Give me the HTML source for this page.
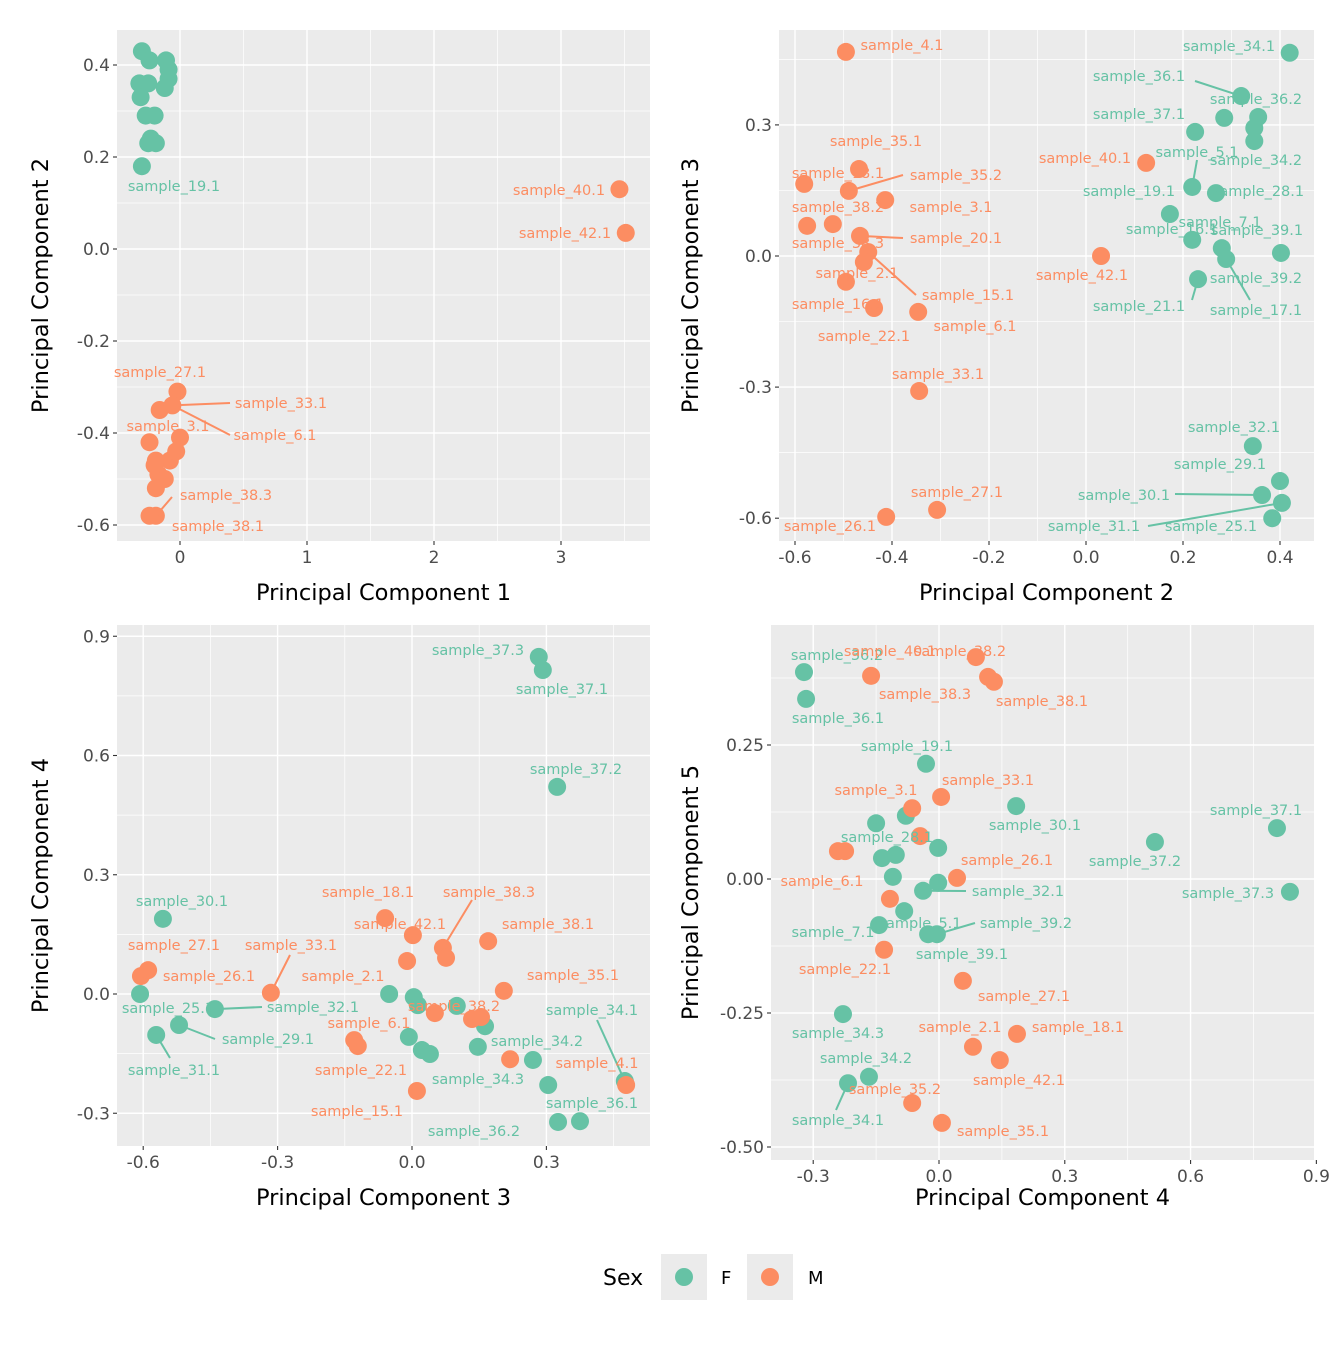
<!DOCTYPE html>
<html><head><meta charset="utf-8"><style>
body{margin:0;background:#fff}
svg{font-family:"DejaVu Sans","Liberation Sans",sans-serif}
</style></head><body>
<svg id="chart" width="1344" height="1344" viewBox="0 0 1344 1344" xmlns="http://www.w3.org/2000/svg"></svg>
<script>
// ---- data: panel 1 (PC1 vs PC2)
const p1GreenX=[-0.30,-0.24,-0.11,-0.09,-0.32,-0.25,-0.09,-0.12,-0.31,-0.27,-0.20,-0.25,-0.19,-0.23,-0.30];
const p1GreenY=[0.43,0.41,0.41,0.39,0.36,0.36,0.37,0.35,0.33,0.29,0.29,0.23,0.23,0.24,0.18];
const p1OrangeX=[-0.02,-0.16,-0.06,-0.24,0,-0.19,-0.08,-0.03,-0.17,-0.12,-0.19,-0.19,-0.24,-0.20,3.46,3.51];
const p1OrangeY=[-0.31,-0.35,-0.34,-0.42,-0.41,-0.46,-0.46,-0.44,-0.49,-0.50,-0.52,-0.58,-0.58,-0.47,0.13,0.035];
// panel 2 (PC2 vs PC3)
const p2GreenX=[0.42,0.32,0.225,0.285,0.355,0.347,0.347,0.219,0.268,0.173,0.219,0.280,0.289,0.402,0.231,0.344,0.40,0.363,0.404,0.384];
const p2GreenY=[0.465,0.366,0.284,0.316,0.318,0.293,0.263,0.158,0.144,0.096,0.037,0.018,-0.007,0.007,-0.053,-0.435,-0.515,-0.547,-0.565,-0.60];
const p2OrangeX=[-0.495,0.124,-0.468,-0.581,-0.489,-0.414,-0.575,-0.522,-0.466,-0.449,-0.458,-0.495,-0.437,-0.346,0.031,-0.344,-0.307,-0.412];
const p2OrangeY=[0.467,0.213,0.199,0.165,0.149,0.128,0.069,0.073,0.046,0.009,-0.014,-0.059,-0.119,-0.128,0,-0.309,-0.581,-0.597];
// panel 3 (PC3 vs PC4)
const p3GreenX=[0.283,0.292,0.324,-0.556,-0.607,-0.571,-0.520,-0.440,-0.051,0.004,0.013,0.100,0.163,-0.007,0.022,0.040,0.147,0.270,0.304,0.326,0.375,0.475];
const p3GreenY=[0.848,0.815,0.521,0.189,0,-0.103,-0.078,-0.038,0,-0.008,-0.028,-0.030,-0.081,-0.108,-0.141,-0.151,-0.133,-0.166,-0.229,-0.322,-0.320,-0.219];
const p3OrangeX=[-0.605,-0.589,-0.315,-0.060,0.002,0.069,0.076,0.170,-0.011,0.205,0.051,0.134,0.154,-0.129,-0.121,0.219,0.011,0.478];
const p3OrangeY=[0.045,0.060,0.003,0.191,0.148,0.116,0.091,0.133,0.083,0.008,-0.048,-0.063,-0.058,-0.116,-0.131,-0.164,-0.244,-0.229];
// panel 4 (PC4 vs PC5)
const p4GreenX=[-0.322,-0.317,-0.031,0.184,-0.079,-0.150,0.515,0.806,0.837,-0.002,-0.136,-0.103,-0.110,-0.002,-0.038,-0.083,-0.143,-0.026,-0.005,-0.229,-0.167,-0.217];
const p4GreenY=[0.386,0.336,0.215,0.136,0.118,0.104,0.069,0.095,-0.024,0.058,0.039,0.045,0.004,-0.007,-0.022,-0.060,-0.086,-0.103,-0.103,-0.252,-0.369,-0.381];
const p4OrangeX=[0.088,-0.162,0.117,0.131,-0.064,0.005,-0.045,-0.241,-0.224,0.043,-0.117,-0.131,0.057,0.186,0.081,0.145,-0.064,0.007];
const p4OrangeY=[0.414,0.379,0.377,0.368,0.132,0.153,0.080,0.052,0.052,0.002,-0.037,-0.132,-0.190,-0.289,-0.313,-0.338,-0.418,-0.455];
// tick labels
const p1XTicks=[0,1,2,3], p1YTicks=[0.4,0.2,0,-0.2,-0.4,-0.6];
const p2XTicks=[-0.6,-0.4,-0.2,0,0.2,0.4], p2YTicks=[0.3,0,-0.3,-0.6];
const p3XTicks=[-0.6,-0.3,0,0.3], p3YTicks=[0.9,0.6,0.3,0,-0.3];
const p4XTicks=[-0.3,0,0.3,0.6,0.9], p4YTicks=[0.25,0,-0.25,-0.5];

const G='#66C2A5', O='#FC8D62';
const svg=document.getElementById('chart');
const NS='http://www.w3.org/2000/svg';
function mk(tag,attrs,parent){const e=document.createElementNS(NS,tag);for(const k in attrs)e.setAttribute(k,attrs[k]);(parent||svg).appendChild(e);return e;}
function fmt(v,d){return (v<0?'-':'')+Math.abs(v).toFixed(d);}

function panel(cfg){
  const g=mk('g',{});
  
  
  const {L,R,T,B}=cfg;
  const sx=v=>cfg.x0px+(v-cfg.x0)*cfg.xs;
  const sy=v=>cfg.y0px-(v-cfg.y0)*cfg.ys;
  const bg=mk('rect',{x:L,y:T,width:R-L,height:B-T,fill:'#EBEBEB'},g);
  
  
  const xs=cfg.xt, ys=cfg.yt;
  const xstep=xs[1]-xs[0], ystep=ys[1]-ys[0];
  for(let i=-1;i<xs.length;i++){const v=xs[0]+(i+0.5)*xstep;const p=sx(v);if(p>L&&p<R)mk('line',{x1:p,x2:p,y1:T,y2:B,stroke:'#fff','stroke-width':0.7},g);}
  for(let i=-1;i<ys.length;i++){const v=ys[0]+(i+0.5)*ystep;const p=sy(v);if(p>T&&p<B)mk('line',{x1:L,x2:R,y1:p,y2:p,stroke:'#fff','stroke-width':0.7},g);}
  xs.forEach(v=>{const p=sx(v);mk('line',{x1:p,x2:p,y1:T,y2:B,stroke:'#fff','stroke-width':1.4},g);
    mk('line',{x1:p,x2:p,y1:B,y2:B+4,stroke:'#333','stroke-width':1.1},g);
    const t=mk('text',{x:p,y:B+22,'text-anchor':'middle','font-size':17,fill:'#4D4D4D'},g);t.textContent=fmt(v,cfg.xd);
    
    });
  ys.forEach(v=>{const p=sy(v);mk('line',{x1:L,x2:R,y1:p,y2:p,stroke:'#fff','stroke-width':1.4},g);
    mk('line',{x1:L-4,x2:L,y1:p,y2:p,stroke:'#333','stroke-width':1.1},g);
    const t=mk('text',{x:L-7,y:p+6,'text-anchor':'end','font-size':17,fill:'#4D4D4D'},g);t.textContent=fmt(v,cfg.yd);
    
    });
  const xt=mk('text',{x:(L+R)/2,y:cfg.xty,'text-anchor':'middle','font-size':22.5,fill:'#000'},g);xt.textContent=cfg.xlab;
  
  
  const yx=cfg.ytx, yy=(T+B)/2;
  const yt=mk('text',{x:yx,y:yy,'text-anchor':'middle','font-size':22.5,fill:'#000',transform:`rotate(-90 ${yx} ${yy})`},g);yt.textContent=cfg.ylab;
  
  
  cfg.segs.forEach(s=>{const arr=s[0]==='g'?[cfg.gx,cfg.gy]:[cfg.ox,cfg.oy];const c=s[0]==='g'?G:O;
    const ln=mk('line',{x1:sx(arr[0][s[1]]),y1:sy(arr[1][s[1]]),x2:s[2],y2:s[3],stroke:c,'stroke-width':2},g);
    
    });
  cfg.gx.forEach((v,i)=>{const c=mk('circle',{cx:sx(v),cy:sy(cfg.gy[i]),r:9,fill:G},g);
    
    });
  cfg.ox.forEach((v,i)=>{const c=mk('circle',{cx:sx(v),cy:sy(cfg.oy[i]),r:9,fill:O},g);
    
    });
  cfg.labels.forEach(l=>{const t=mk('text',{x:l[1],y:l[2]+5,'text-anchor':'middle','font-size':14.5,fill:l[3]==='g'?G:O},g);t.textContent=l[0];
    
    });
}

panel({name:'panel-pc1-pc2',L:117,R:650,T:30,B:541,x0:0,x0px:180,xs:127,y0:0,y0px:249,ys:460,xt:p1XTicks,yt:p1YTicks,xd:0,yd:1,
 xlab:'Principal Component 1',ylab:'Principal Component 2',ytx:48,xty:600,
 gx:p1GreenX,gy:p1GreenY,ox:p1OrangeX,oy:p1OrangeY,
 segs:[['o',2,230,403],['o',2,230,435],['o',11,172,497]],
 labels:[['sample_19.1',174,186,'g'],['sample_40.1',559,190,'o'],['sample_42.1',565,233,'o'],['sample_27.1',160,372,'o'],['sample_33.1',281,403,'o'],['sample_3.1',168,426,'o'],['sample_6.1',275,435,'o'],['sample_38.3',226,495,'o'],['sample_38.1',218,526,'o']]});

panel({name:'panel-pc2-pc3',L:779,R:1314,T:30,B:541,x0:0,x0px:1086,xs:485,y0:0,y0px:256,ys:437,xt:p2XTicks,yt:p2YTicks,xd:1,yd:1,
 xlab:'Principal Component 2',ylab:'Principal Component 3',ytx:698,xty:600,
 gx:p2GreenX,gy:p2GreenY,ox:p2OrangeX,oy:p2OrangeY,
 segs:[['g',1,1195,81],['g',7,1197,160],['g',14,1192,300],['g',12,1250,300],['g',17,1175,494],['g',18,1148,526],['o',4,903,175],['o',8,903,238],['o',9,916,295]],
 labels:[['sample_34.1',1229,46,'g'],['sample_36.1',1139,76,'g'],['sample_36.2',1256,99,'g'],['sample_37.1',1139,114,'g'],['sample_5.1',1197,152,'g'],['sample_34.2',1256,160,'g'],['sample_19.1',1129,191,'g'],['sample_28.1',1258,191,'g'],['sample_7.1',1220,222,'g'],['sample_16.1',1172,229,'g'],['sample_39.1',1257,230,'g'],['sample_39.2',1256,278,'g'],['sample_21.1',1139,306,'g'],['sample_17.1',1256,310,'g'],['sample_32.1',1234,427,'g'],['sample_29.1',1220,464,'g'],['sample_30.1',1124,495,'g'],['sample_31.1',1094,526,'g'],['sample_25.1',1211,526,'g'],
 ['sample_4.1',902,45,'o'],['sample_35.1',876,141,'o'],['sample_40.1',1085,158,'o'],['sample_35.2',956,175,'o'],['sample_18.1',838,173,'o'],['sample_38.2',838,207,'o'],['sample_3.1',951,207,'o'],['sample_20.1',956,238,'o'],['sample_38.3',838,243,'o'],['sample_2.1',857,273,'o'],['sample_42.1',1082,275,'o'],['sample_15.1',968,295,'o'],['sample_16.1',838,304,'o'],['sample_6.1',975,326,'o'],['sample_22.1',864,336,'o'],['sample_33.1',938,374,'o'],['sample_27.1',957,492,'o'],['sample_26.1',830,526,'o']]});

panel({name:'panel-pc3-pc4',L:117,R:650,T:625,B:1146,x0:0,x0px:412,xs:448,y0:0,y0px:994,ys:397.5,xt:p3XTicks,yt:p3YTicks,xd:1,yd:1,
 xlab:'Principal Component 3',ylab:'Principal Component 4',ytx:48,xty:1205,
 gx:p3GreenX,gy:p3GreenY,ox:p3OrangeX,oy:p3OrangeY,
 segs:[['g',7,262,1007],['g',6,215,1039],['g',5,170,1058],['g',21,597,1020],['o',2,290,955],['o',5,472,900]],
 labels:[['sample_37.3',478,650,'g'],['sample_37.1',562,689,'g'],['sample_37.2',576,769,'g'],['sample_30.1',182,901,'g'],['sample_25.1',168,1008,'g'],['sample_32.1',313,1007,'g'],['sample_29.1',268,1039,'g'],['sample_31.1',174,1070,'g'],['sample_34.2',537,1041,'g'],['sample_34.3',478,1079,'g'],['sample_34.1',592,1010,'g'],['sample_36.1',592,1103,'g'],['sample_36.2',474,1131,'g'],
 ['sample_18.1',368,892,'o'],['sample_38.3',489,892,'o'],['sample_42.1',400,924,'o'],['sample_38.1',548,924,'o'],['sample_27.1',174,945,'o'],['sample_33.1',291,945,'o'],['sample_26.1',209,976,'o'],['sample_2.1',343,976,'o'],['sample_38.2',454,1006,'o'],['sample_35.1',573,975,'o'],['sample_6.1',369,1023,'o'],['sample_22.1',361,1070,'o'],['sample_4.1',597,1063,'o'],['sample_15.1',357,1111,'o']]});

panel({name:'panel-pc4-pc5',L:771,R:1314,T:625,B:1160,x0:0,x0px:939,xs:419.3,y0:0,y0px:879,ys:536,xt:p4XTicks,yt:p4YTicks,xd:1,yd:2,
 xlab:'Principal Component 4',ylab:'Principal Component 5',ytx:698,xty:1205,
 gx:p4GreenX,gy:p4GreenY,ox:p4OrangeX,oy:p4OrangeY,
 segs:[['g',14,966,891],['g',18,975,923],['g',21,836,1110]],
 labels:[['sample_36.2',837,655,'g'],['sample_36.1',838,718,'g'],['sample_19.1',907,746,'g'],['sample_30.1',1035,825,'g'],['sample_37.1',1256,810,'g'],['sample_37.2',1135,861,'g'],['sample_37.3',1228,893,'g'],['sample_28.1',887,837,'g'],['sample_32.1',1018,891,'g'],['sample_5.1',920,923,'g'],['sample_39.2',1026,923,'g'],['sample_7.1',833,932,'g'],['sample_39.1',962,954,'g'],['sample_34.3',838,1033,'g'],['sample_34.2',866,1058,'g'],['sample_34.1',838,1120,'g'],
 ['sample_40.1',890,651,'o'],['sample_38.2',960,651,'o'],['sample_38.3',925,694,'o'],['sample_38.1',1042,701,'o'],['sample_3.1',876,790,'o'],['sample_33.1',988,780,'o'],['sample_26.1',1007,860,'o'],['sample_6.1',822,881,'o'],['sample_22.1',845,969,'o'],['sample_27.1',1024,996,'o'],['sample_2.1',960,1027,'o'],['sample_18.1',1078,1027,'o'],['sample_42.1',1019,1080,'o'],['sample_35.2',895,1089,'o'],['sample_35.1',1003,1131,'o']]});

// legend
const lg=mk('g',{});


const lt=mk('text',{x:603,y:1285,'font-size':22,fill:'#000'},lg);lt.textContent='Sex';


[[661,G,'F',721],[747,O,'M',808]].forEach(e=>{
  const eg=mk('g',{},lg);
  
  
  mk('rect',{x:e[0],y:1254,width:46,height:46,fill:'#EBEBEB'},eg);
  mk('circle',{cx:e[0]+23,cy:1277,r:9,fill:e[1]},eg);
  const t=mk('text',{x:e[3],y:1284,'font-size':18,fill:'#000'},eg);t.textContent=e[2];
});
</script>
</body></html>
